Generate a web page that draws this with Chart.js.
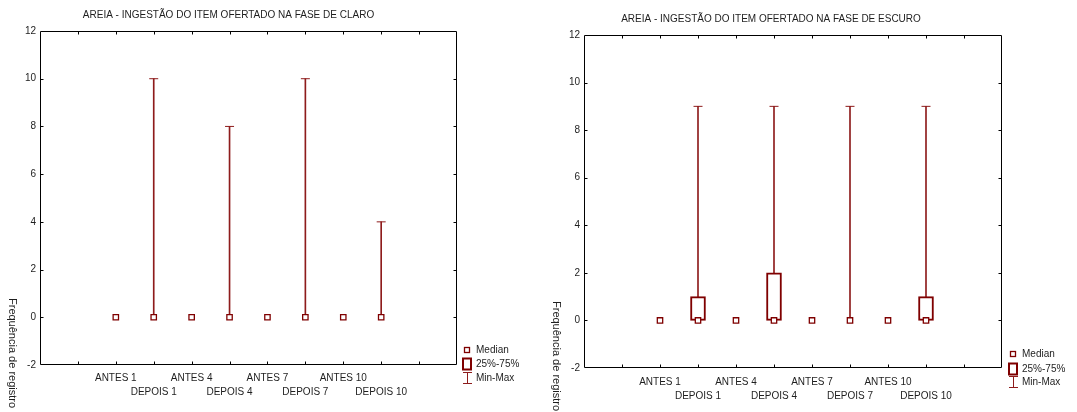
<!DOCTYPE html>
<html>
<head>
<meta charset="utf-8">
<script src="https://cdn.jsdelivr.net/npm/chart.js@4/dist/chart.umd.min.js"></script>
<style>
  html, body { margin: 0; padding: 0; background: #fff; overflow: hidden; }
  #wrap { position: relative; width: 1077px; height: 412px; }
  #wrap canvas { position: absolute; top: 0; }
</style>
</head>
<body>
<div id="wrap">
  <canvas id="claro" width="540" height="412" style="left:0"></canvas>
  <canvas id="escuro" width="537" height="412" style="left:540px"></canvas>
</div>
<script>
// Groups on the horizontal axis
const categories = ['ANTES 1', 'DEPOIS 1', 'ANTES 4', 'DEPOIS 4', 'ANTES 7', 'DEPOIS 7', 'ANTES 10', 'DEPOIS 10'];

// Fase de claro: median, quartiles and range per group
const claroMedian = [0, 0, 0, 0, 0, 0, 0, 0];
const claroQ1     = [0, 0, 0, 0, 0, 0, 0, 0];
const claroQ3     = [0, 0, 0, 0, 0, 0, 0, 0];
const claroMin    = [0, 0, 0, 0, 0, 0, 0, 0];
const claroMax    = [0, 10, 0, 8, 0, 10, 0, 4];

// Fase de escuro
const escuroMedian = [0, 0, 0, 0, 0, 0, 0, 0];
const escuroQ1     = [0, 0, 0, 0, 0, 0, 0, 0];
const escuroQ3     = [0, 1, 0, 2, 0, 0, 0, 1];
const escuroMin    = [0, 0, 0, 0, 0, 0, 0, 0];
const escuroMax    = [0, 9, 0, 9, 0, 9, 0, 9];

// Value axis
const yMin = -2;
const yMax = 12;
const yStep = 2;

const legendNames = ['Median', '25%-75%', 'Min-Max'];
const axisTitle = 'Frequência de registro';

const FONT = "'Liberation Sans', Arial, Helvetica, sans-serif";
const INK = '#1e1e1e';
const RED = '#7f0000';
const RED_THIN = '#8e1c1c';

Chart.defaults.font.family = FONT;
Chart.defaults.font.size = 10;
Chart.defaults.color = INK;

// two empty slots on each side of the groups
const pad = arr => [null, null, ...arr, null, null];
const axisLabels = ['', '', ...categories.map((c, i) => (i % 2 === 0 ? [c, ''] : ['', c])), '', ''];

// Frame around the plot with inward tick marks on all four sides
const framePlugin = {
  id: 'frame',
  afterDatasetsDraw(chart) {
    const { ctx, chartArea: a, scales } = chart;
    const L = Math.round(a.left) + 0.5, R = Math.round(a.right) - 0.5;
    const T = Math.round(a.top) + 0.5, B = Math.round(a.bottom) - 0.5;
    ctx.save();
    ctx.strokeStyle = '#000';
    ctx.lineWidth = 1;
    ctx.beginPath();
    ctx.rect(L, T, R - L, B - T);
    const tk = 3;
    scales.x.ticks.forEach((t, i) => {
      const px = Math.round(scales.x.getPixelForTick(i)) + 0.5;
      if (px <= L + 1 || px >= R - 1) return;
      ctx.moveTo(px, B); ctx.lineTo(px, B - tk);
      ctx.moveTo(px, T); ctx.lineTo(px, T + tk);
    });
    scales.y.ticks.forEach((t, i) => {
      const py = Math.round(scales.y.getPixelForTick(i)) + 0.5;
      if (py <= T + 1 || py >= B - 1) return;
      ctx.moveTo(L, py); ctx.lineTo(L + tk, py);
      ctx.moveTo(R, py); ctx.lineTo(R - tk, py);
    });
    ctx.stroke();
    ctx.restore();
  }
};

// Vertical axis caption, reading downward
const axisTitlePlugin = {
  id: 'sideTitle',
  afterDraw(chart, args, opts) {
    const { ctx } = chart;
    ctx.save();
    ctx.translate(opts.x, opts.y);
    ctx.rotate(Math.PI / 2);
    ctx.font = `11px ${FONT}`;
    ctx.fillStyle = INK;
    ctx.textAlign = 'left';
    ctx.textBaseline = 'middle';
    ctx.fillText(axisTitle, 0, 0);
    ctx.restore();
  }
};

// Key for the box plot symbols
const keyPlugin = {
  id: 'boxKey',
  afterDraw(chart, args, opts) {
    const { ctx } = chart;
    const x = opts.x, rows = opts.rows;
    ctx.save();
    ctx.font = `10px ${FONT}`;
    ctx.textAlign = 'left';
    ctx.textBaseline = 'middle';
    // median symbol
    ctx.strokeStyle = RED;
    ctx.lineWidth = 1.3;
    ctx.fillStyle = '#fff';
    ctx.fillRect(x - 2.5, rows[0] - 2.5, 5, 5);
    ctx.strokeRect(x - 2.5, rows[0] - 2.5, 5, 5);
    // box symbol
    ctx.lineWidth = 2;
    ctx.strokeRect(x - 4, rows[1] - 5.5, 8, 11);
    // range symbol
    ctx.lineWidth = 1;
    ctx.strokeStyle = RED_THIN;
    ctx.beginPath();
    ctx.moveTo(x + 0.5, rows[2] - 6); ctx.lineTo(x + 0.5, rows[2] + 6);
    ctx.moveTo(x - 4, rows[2] - 5.5); ctx.lineTo(x + 5, rows[2] - 5.5);
    ctx.moveTo(x - 4, rows[2] + 5.5); ctx.lineTo(x + 5, rows[2] + 5.5);
    ctx.stroke();
    ctx.fillStyle = INK;
    legendNames.forEach((n, i) => ctx.fillText(n, x + 9, rows[i]));
    ctx.restore();
  }
};

function makeChart(id, title, s, lay) {
  const boxes = pad(s.q1.map((v, i) => (s.q3[i] > v ? [v, s.q3[i]] : null)));
  const ranges = pad(s.min.map((v, i) => (s.max[i] > v ? [v, s.max[i]] : null)));
  const caps = pad(s.max.map((v, i) => (v > s.min[i] ? v : null)));
  const medians = pad(s.median);

  return new Chart(document.getElementById(id), {
    type: 'bar',
    data: {
      labels: axisLabels,
      datasets: [
        {
          label: 'Min-Max',
          data: ranges,
          grouped: false,
          barThickness: 1,
          backgroundColor: RED_THIN,
          borderWidth: 0,
          order: 4
        },
        {
          label: '25%-75%',
          data: boxes,
          grouped: false,
          barThickness: 15,
          backgroundColor: '#fff',
          borderColor: RED,
          borderWidth: 2,
          borderSkipped: false,
          order: 3
        },
        {
          type: 'line',
          label: 'Max',
          data: caps,
          showLine: false,
          pointStyle: 'line',
          pointRadius: 4.5,
          pointBorderWidth: 1,
          pointBorderColor: RED_THIN,
          order: 2
        },
        {
          type: 'line',
          label: 'Median',
          data: medians,
          showLine: false,
          pointStyle: 'rect',
          pointRadius: 3.8,
          pointBorderWidth: 1.3,
          pointBorderColor: RED,
          pointBackgroundColor: '#fff',
          order: 1
        }
      ]
    },
    options: {
      responsive: false,
      animation: false,
      devicePixelRatio: 1,
      layout: { padding: { left: 0, right: lay.right, top: lay.top, bottom: lay.bottom } },
      plugins: {
        legend: { display: false },
        tooltip: { enabled: false },
        title: {
          display: true,
          text: title,
          color: INK,
          font: { size: 10, weight: 'normal', family: FONT, lineHeight: 1.2 },
          padding: { top: lay.titleTop, bottom: lay.titleBottom }
        },
        sideTitle: { x: lay.capX, y: lay.capY },
        boxKey: { x: lay.keyX, rows: lay.keyRows }
      },
      scales: {
        x: {
          type: 'category',
          offset: false,
          grid: { display: false, drawTicks: false },
          border: { display: false },
          ticks: {
            autoSkip: false,
            maxRotation: 0,
            minRotation: 0,
            padding: lay.xPad,
            color: INK,
            font: { size: 10, lineHeight: 1.4 }
          },
          afterFit(sc) { sc.height = lay.xHeight; }
        },
        y: {
          min: yMin,
          max: yMax,
          grid: { display: false, drawTicks: false },
          border: { display: false },
          ticks: { stepSize: yStep, padding: 4, color: INK, font: { size: 10 } },
          afterFit(sc) { sc.width = lay.yWidth; }
        }
      }
    },
    plugins: [framePlugin, axisTitlePlugin, keyPlugin]
  });
}

makeChart('claro', 'AREIA - INGESTÃO DO ITEM OFERTADO NA FASE DE CLARO',
  { median: claroMedian, q1: claroQ1, q3: claroQ3, min: claroMin, max: claroMax },
  { right: 83, top: 6, bottom: 13, titleTop: 3, titleBottom: 10, xPad: 6, xHeight: 34,
    yWidth: 40, capX: 12, capY: 298, keyX: 467, keyRows: [350, 364, 378] });

makeChart('escuro', 'AREIA - INGESTÃO DO ITEM OFERTADO NA FASE DE ESCURO',
  { median: escuroMedian, q1: escuroQ1, q3: escuroQ3, min: escuroMin, max: escuroMax },
  { right: 75, top: 6, bottom: 9, titleTop: 7, titleBottom: 10, xPad: 7, xHeight: 35,
    yWidth: 44, capX: 16, capY: 301, keyX: 473, keyRows: [354, 369, 382] });
</script>
</body>
</html>
